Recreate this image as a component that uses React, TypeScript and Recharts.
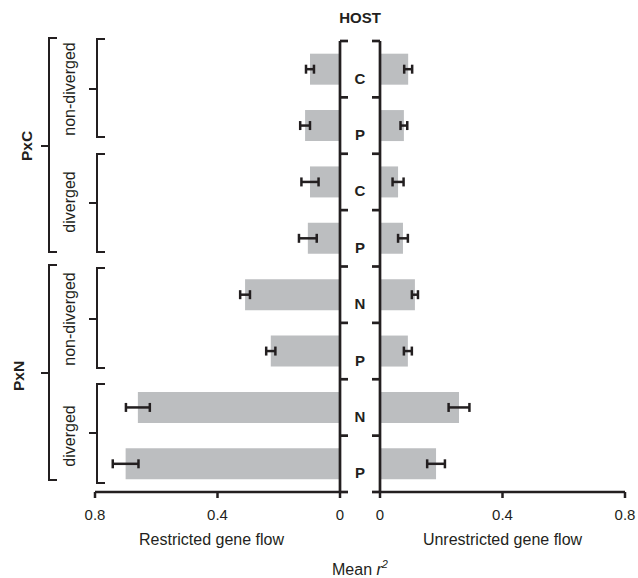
import { BarChart, Bar, XAxis, YAxis, ErrorBar } from 'recharts'

const FONT = '"Liberation Sans", Arial, Helvetica, sans-serif'
const INK = '#231f20'
const GREY = '#bcbec0'

// top to bottom: PxC non-diverged, PxC diverged, PxN non-diverged, PxN diverged
const keys = ['pxc-nd-c', 'pxc-nd-p', 'pxc-d-c', 'pxc-d-p', 'pxn-nd-n', 'pxn-nd-p', 'pxn-d-n', 'pxn-d-p']
const hosts = ['C', 'P', 'C', 'P', 'N', 'P', 'N', 'P']
const restricted = [0.098, 0.114, 0.098, 0.105, 0.31, 0.226, 0.66, 0.7]
const restrictedErr = [0.013, 0.016, 0.028, 0.029, 0.016, 0.015, 0.039, 0.042]
const unrestricted = [0.092, 0.078, 0.059, 0.075, 0.114, 0.091, 0.258, 0.183]
const unrestrictedErr = [0.013, 0.011, 0.018, 0.016, 0.01, 0.013, 0.034, 0.029]
const xTicks = [0, 0.4, 0.8]

const data = keys.map((key, i) => ({
  key,
  host: hosts[i],
  restricted: restricted[i],
  restrictedErr: restrictedErr[i],
  unrestricted: unrestricted[i],
  unrestrictedErr: unrestrictedErr[i],
}))

// category axis tick: separator marks at band edges plus the host letter
function HostTick(props: any) {
  const { x, y, index, height, visibleTicksCount, side } = props
  const n = visibleTicksCount || keys.length
  const half = height / n / 2
  const dir = side === 'right' ? 1 : -1
  return (
    <g>
      <line x1={x} x2={x + dir * 8} y1={y - half} y2={y - half} stroke={INK} strokeWidth={2.7} />
      {index === n - 1 && (
        <line x1={x} x2={x + dir * 8} y1={y + half} y2={y + half} stroke={INK} strokeWidth={2.7} />
      )}
      {side === 'right' && (
        <text x={x + 20} y={y + 14.5} textAnchor="middle" fontFamily={FONT} fontWeight="bold" fontSize={15} fill={INK}>
          {hosts[index]}
        </text>
      )}
    </g>
  )
}

function Brace({ x, y1, y2, ym }: { x: number; y1: number; y2: number; ym: number }) {
  return (
    <path
      d={`M${x + 8},${y1} H${x} V${y2} H${x + 8} M${x},${ym} H${x - 8}`}
      fill="none"
      stroke={INK}
      strokeWidth={2}
    />
  )
}

function VLabel({ x, y, text, bold }: { x: number; y: number; text: string; bold?: boolean }) {
  return (
    <text
      x={x}
      y={y}
      transform={`rotate(-90 ${x} ${y})`}
      textAnchor="middle"
      fontFamily={FONT}
      fontSize={bold ? 15.5 : 16}
      fontWeight={bold ? 'bold' : 'normal'}
      fill={INK}
    >
      {text}
    </text>
  )
}

const axisText = { fontFamily: FONT, fontSize: 15, fill: INK }
const labelText = { fontFamily: FONT, fontSize: 16, fill: INK }

export default function App() {
  return (
    <div style={{ position: 'absolute', left: 0, top: 0, width: 638, height: 578, background: '#fff' }}>
      <div style={{ position: 'absolute', left: 0, top: 0 }}>
        <BarChart
          width={380}
          height={578}
          data={data}
          layout="vertical"
          margin={{ top: 41, right: 0, left: 95, bottom: 56 }}
          barCategoryGap="22.5%"
        >
          <XAxis
            type="number"
            domain={[0, 0.8]}
            ticks={xTicks}
            reversed
            height={30}
            tickSize={6}
            tickMargin={11}
            stroke={INK}
            axisLine={{ stroke: INK, strokeWidth: 2.7 }}
            tickLine={{ stroke: INK, strokeWidth: 2.5 }}
            tick={axisText}
            label={{ value: 'Restricted gene flow', position: 'bottom', offset: 12, dx: -6, style: labelText }}
          />
          <YAxis
            type="category"
            dataKey="key"
            orientation="right"
            width={40}
            tickSize={0}
            tickMargin={0}
            tickLine={false}
            axisLine={{ stroke: INK, strokeWidth: 2.7 }}
            tick={(p: any) => <HostTick {...p} side="right" />}
            interval={0}
          />
          <Bar dataKey="restricted" fill={GREY} isAnimationActive={false}>
            <ErrorBar dataKey="restrictedErr" direction="x" width={4.5} stroke={INK} strokeWidth={2.5} />
          </Bar>
        </BarChart>
      </div>
      <div style={{ position: 'absolute', left: 340, top: 0 }}>
        <BarChart
          width={298}
          height={578}
          data={data}
          layout="vertical"
          margin={{ top: 41, right: 13, left: 0, bottom: 56 }}
          barCategoryGap="22.5%"
        >
          <XAxis
            type="number"
            domain={[0, 0.8]}
            ticks={xTicks}
            height={30}
            tickSize={6}
            tickMargin={11}
            stroke={INK}
            axisLine={{ stroke: INK, strokeWidth: 2.7 }}
            tickLine={{ stroke: INK, strokeWidth: 2.5 }}
            tick={axisText}
            label={{ value: 'Unrestricted gene flow', position: 'bottom', offset: 12, style: labelText }}
          />
          <YAxis
            type="category"
            dataKey="key"
            orientation="left"
            width={40}
            tickSize={0}
            tickMargin={0}
            tickLine={false}
            axisLine={{ stroke: INK, strokeWidth: 2.7 }}
            tick={(p: any) => <HostTick {...p} side="left" />}
            interval={0}
          />
          <Bar dataKey="unrestricted" fill={GREY} isAnimationActive={false}>
            <ErrorBar dataKey="unrestrictedErr" direction="x" width={4.5} stroke={INK} strokeWidth={2.5} />
          </Bar>
        </BarChart>
      </div>
      <svg width={638} height={578} style={{ position: 'absolute', left: 0, top: 0, pointerEvents: 'none' }}>
        <text x={360} y={23} textAnchor="middle" fontFamily={FONT} fontWeight="bold" fontSize={15} fill={INK}>
          HOST
        </text>
        <text x={360} y={575} textAnchor="middle" {...labelText}>
          Mean <tspan fontStyle="italic">r</tspan>
          <tspan fontStyle="italic" fontSize={11} dy={-7}>2</tspan>
        </text>

        <Brace x={49} y1={38} y2={252} ym={146} />
        <Brace x={97} y1={39} y2={137} ym={89} />
        <Brace x={97} y1={154} y2={252} ym={203} />
        <Brace x={49} y1={265} y2={480} ym={373} />
        <Brace x={97} y1={268} y2={368} ym={319} />
        <Brace x={97} y1={384} y2={483} ym={433} />

        <VLabel x={32} y={146} text="PxC" bold />
        <VLabel x={24} y={376} text="PxN" bold />
        <VLabel x={75} y={89} text="non-diverged" />
        <VLabel x={75} y={202} text="diverged" />
        <VLabel x={75} y={319} text="non-diverged" />
        <VLabel x={75} y={436} text="diverged" />
      </svg>
    </div>
  )
}
